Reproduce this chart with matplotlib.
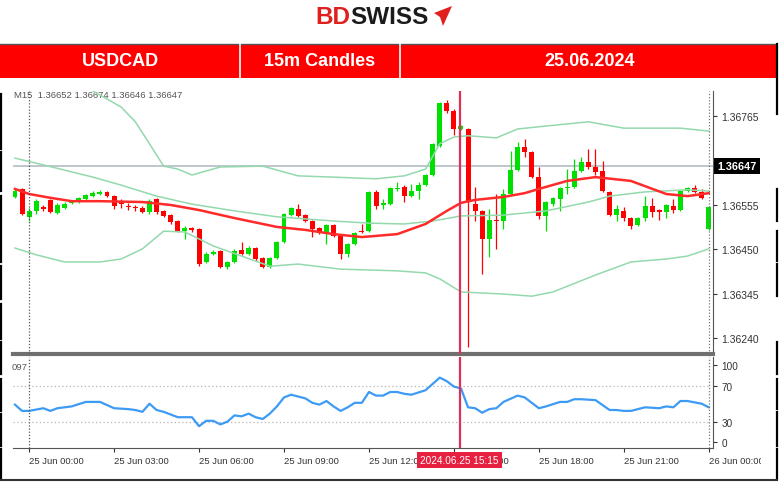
import matplotlib
matplotlib.use('Agg')
import matplotlib.pyplot as plt
import matplotlib.transforms as mtransforms
from matplotlib.patches import Rectangle, Polygon
from matplotlib.lines import Line2D

plt.rcParams['font.family'] = ['Liberation Sans', 'DejaVu Sans']

# USDCAD 15m candles, 24 Jun 23:30 -> 26 Jun 00:00 (index 2 = 25 Jun 00:00)
opens = [1.36574, 1.36593, 1.36527, 1.36541, 1.36550, 1.36567, 1.36536, 1.36548, 1.36560, 1.36562,
         1.36569, 1.36576, 1.36581, 1.36586, 1.36576, 1.36562, 1.36553, 1.36550, 1.36548, 1.36538,
         1.36569, 1.36541, 1.36531, 1.36517, 1.36493, 1.36500, 1.36498, 1.36420, 1.36439, 1.36446,
         1.36408, 1.36420, 1.36448, 1.36439, 1.36453, 1.36429, 1.36408, 1.36429, 1.36467, 1.36531,
         1.36546, 1.36531, 1.36517, 1.36500, 1.36486, 1.36508, 1.36482, 1.36439, 1.36463, 1.36493,
         1.36493, 1.36586, 1.36555, 1.36557, 1.36593, 1.36598, 1.36576, 1.36588, 1.36602, 1.36626,
         1.36695, 1.36797, 1.36778, 1.36735, 1.36735, 1.36557, 1.36541, 1.36474, 1.36519, 1.36517,
         1.36581, 1.36638, 1.36692, 1.36681, 1.36621, 1.36529, 1.36557, 1.36569, 1.36595, 1.36598,
         1.36636, 1.36657, 1.36645, 1.36636, 1.36586, 1.36531, 1.36541, 1.36524, 1.36508, 1.36524,
         1.36553, 1.36543, 1.36538, 1.36553, 1.36543, 1.36588, 1.36595, 1.36586, 1.36498]
highs = [1.36593, 1.36595, 1.36548, 1.36569, 1.36555, 1.36569, 1.36560, 1.36562, 1.36567, 1.36574,
         1.36581, 1.36588, 1.36591, 1.36588, 1.36579, 1.36569, 1.36560, 1.36555, 1.36553, 1.36569,
         1.36572, 1.36543, 1.36534, 1.36519, 1.36505, 1.36503, 1.36500, 1.36444, 1.36448, 1.36448,
         1.36422, 1.36451, 1.36467, 1.36458, 1.36455, 1.36432, 1.36432, 1.36470, 1.36536, 1.36550,
         1.36557, 1.36534, 1.36519, 1.36503, 1.36510, 1.36510, 1.36484, 1.36465, 1.36491, 1.36510,
         1.36588, 1.36591, 1.36569, 1.36598, 1.36610, 1.36602, 1.36605, 1.36610, 1.36628, 1.36702,
         1.36799, 1.36804, 1.36783, 1.36745, 1.36737, 1.36598, 1.36543, 1.36546, 1.36581, 1.36593,
         1.36683, 1.36704, 1.36711, 1.36683, 1.36645, 1.36564, 1.36574, 1.36598, 1.36640, 1.36664,
         1.36669, 1.36688, 1.36688, 1.36659, 1.36588, 1.36555, 1.36550, 1.36527, 1.36527, 1.36576,
         1.36572, 1.36546, 1.36557, 1.36569, 1.36591, 1.36598, 1.36602, 1.36593, 1.36553]
lows = [1.36572, 1.36531, 1.36517, 1.36534, 1.36541, 1.36536, 1.36534, 1.36546, 1.36557, 1.36560,
        1.36567, 1.36574, 1.36579, 1.36574, 1.36546, 1.36548, 1.36543, 1.36541, 1.36536, 1.36534,
        1.36534, 1.36527, 1.36510, 1.36491, 1.36474, 1.36491, 1.36410, 1.36418, 1.36437, 1.36406,
        1.36403, 1.36418, 1.36437, 1.36437, 1.36422, 1.36406, 1.36406, 1.36427, 1.36465, 1.36529,
        1.36527, 1.36515, 1.36479, 1.36486, 1.36463, 1.36479, 1.36427, 1.36432, 1.36460, 1.36489,
        1.36491, 1.36546, 1.36546, 1.36555, 1.36588, 1.36562, 1.36574, 1.36569, 1.36600, 1.36624,
        1.36692, 1.36773, 1.36721, 1.36733, 1.36219, 1.36517, 1.36391, 1.36432, 1.36451, 1.36498,
        1.36579, 1.36636, 1.36669, 1.36619, 1.36522, 1.36493, 1.36553, 1.36541, 1.36581, 1.36595,
        1.36633, 1.36640, 1.36626, 1.36586, 1.36529, 1.36517, 1.36517, 1.36498, 1.36505, 1.36517,
        1.36527, 1.36519, 1.36524, 1.36536, 1.36541, 1.36586, 1.36583, 1.36569, 1.36496]
closes = [1.36588, 1.36534, 1.36541, 1.36564, 1.36546, 1.36538, 1.36555, 1.36557, 1.36564, 1.36572,
          1.36579, 1.36583, 1.36586, 1.36576, 1.36553, 1.36557, 1.36550, 1.36548, 1.36538, 1.36564,
          1.36538, 1.36529, 1.36515, 1.36493, 1.36500, 1.36496, 1.36415, 1.36439, 1.36444, 1.36408,
          1.36420, 1.36446, 1.36439, 1.36453, 1.36427, 1.36408, 1.36429, 1.36467, 1.36534, 1.36548,
          1.36529, 1.36517, 1.36498, 1.36489, 1.36508, 1.36482, 1.36439, 1.36463, 1.36489, 1.36491,
          1.36586, 1.36553, 1.36560, 1.36595, 1.36595, 1.36576, 1.36588, 1.36602, 1.36626, 1.36700,
          1.36797, 1.36778, 1.36735, 1.36742, 1.36562, 1.36541, 1.36474, 1.36519, 1.36517, 1.36581,
          1.36638, 1.36692, 1.36681, 1.36621, 1.36529, 1.36562, 1.36572, 1.36595, 1.36598, 1.36636,
          1.36657, 1.36645, 1.36633, 1.36588, 1.36531, 1.36546, 1.36524, 1.36505, 1.36524, 1.36553,
          1.36538, 1.36538, 1.36555, 1.36543, 1.36588, 1.36595, 1.36586, 1.36572, 1.36550]

# moving average (red) and bands (green), read at some candles
ma_idx = [0, 2, 5, 8, 12, 18, 22, 26, 31, 37, 41, 45, 49, 54, 58, 61, 63, 65, 69, 72, 74, 78, 82, 87, 92, 95, 98]
ma_val = [1.36593, 1.36581, 1.36572, 1.36564, 1.36564, 1.36562, 1.36555, 1.36543, 1.36524, 1.36503,
          1.36496, 1.36486, 1.36479, 1.36486, 1.36510, 1.36541, 1.36560, 1.36567, 1.36574, 1.36583,
          1.36593, 1.36612, 1.36621, 1.36612, 1.36581, 1.36576, 1.36583]
up_idx = [9, 11, 15, 17, 19, 21, 23, 25, 29, 35, 40, 45, 51, 55, 58, 60, 62, 64, 68, 71, 75, 81, 86, 94, 98]
up_val = [1.36844, 1.36825, 1.36787, 1.36752, 1.36700, 1.36647, 1.36640, 1.36626, 1.36645, 1.36647,
          1.36624, 1.36621, 1.36617, 1.36624, 1.36640, 1.36700, 1.36716, 1.36719, 1.36714, 1.36735,
          1.36742, 1.36752, 1.36737, 1.36737, 1.36730]
mid_idx = [0, 4, 11, 15, 20, 25, 31, 37, 45, 50, 55, 59, 63, 69, 75, 81, 84, 89, 95, 98]
mid_val = [1.36666, 1.36650, 1.36621, 1.36602, 1.36576, 1.36557, 1.36541, 1.36527, 1.36517, 1.36512,
           1.36510, 1.36517, 1.36529, 1.36531, 1.36541, 1.36562, 1.36576, 1.36586, 1.36591, 1.36588]
low_idx = [0, 3, 7, 12, 15, 18, 21, 24, 28, 32, 36, 40, 46, 54, 58, 60, 63, 69, 73, 76, 82, 87, 92, 95, 98]
low_val = [1.36453, 1.36437, 1.36420, 1.36420, 1.36427, 1.36451, 1.36493, 1.36491, 1.36458, 1.36434,
           1.36410, 1.36415, 1.36403, 1.36399, 1.36394, 1.36380, 1.36349, 1.36344, 1.36339, 1.36349,
           1.36389, 1.36420, 1.36427, 1.36434, 1.36451]

rsi_idx = [0, 1, 2, 4, 5, 6, 7, 8, 10, 12, 14, 16, 17, 18, 19, 20, 21, 23, 25, 26, 27, 28, 29, 30,
           31, 32, 33, 34, 35, 36, 37, 38, 39, 41, 42, 43, 44, 45, 46, 47, 48, 49, 50, 51, 52, 53,
           54, 55, 56, 58, 60, 61, 62, 63, 64, 65, 66, 67, 68, 69, 71, 72, 74, 75, 77, 78, 79, 80,
           82, 84, 85, 86, 87, 89, 91, 92, 93, 94, 95, 97, 98]
rsi_val = [49, 42, 42, 45, 42, 45, 46, 47, 52, 52, 45, 44, 43, 41, 50, 43, 41, 35, 35, 25, 31, 31, 27, 30,
           37, 36, 39, 35, 33, 39, 47, 57, 60, 56, 51, 49, 53, 47, 42, 46, 51, 51, 63, 59, 59, 63,
           63, 61, 60, 65, 79, 75, 69, 67, 46, 45, 40, 44, 45, 52, 59, 57, 45, 47, 52, 52, 55, 55,
           54, 43, 43, 42, 42, 46, 45, 47, 46, 53, 53, 50, 46]

time_idx = [2, 14, 26, 38, 50, 62, 74, 86, 98]
time_labels = ['25 Jun 00:00', '25 Jun 03:00', '25 Jun 06:00', '25 Jun 09:00', '25 Jun 12:00',
               '25 Jun 15:00', '25 Jun 18:00', '25 Jun 21:00', '26 Jun 00:00']
price_ticks = [1.36240, 1.36345, 1.36450, 1.36555, 1.36660, 1.36765]
last_price = 1.36647
cross_idx = 62.8
cross_label = '2024.06.25 15:15'
header = ['USDCAD', '15m Candles', '25.06.2024']

W, H = 780, 485
def fx(px):
    return px / W
def fy(py):
    return 1 - py / H

fig = plt.figure(figsize=(7.8, 4.85), dpi=100)
fig.patch.set_facecolor('white')

# logo
fig.text(fx(350), fy(18), 'BD', color='#e0201f', fontsize=17.5, fontweight='bold', ha='right', va='center')
fig.text(fx(350), fy(18), 'SWISS', color='#1b1b1b', fontsize=17.5, fontweight='bold', ha='left', va='center')
fig.add_artist(Polygon([(fx(434), fy(14)), (fx(452), fy(7)), (fx(443), fy(27)), (fx(440), fy(18))],
                       closed=True, fc='#e0201f', ec='none', transform=fig.transFigure))

# header bar
fig.add_artist(Rectangle((0, fy(79)), fx(776), 34 / H, fc='#ff0000', ec='none', transform=fig.transFigure))
fig.add_artist(Line2D([0, fx(776)], [fy(45), fy(45)], color='#555555', lw=1, transform=fig.transFigure))
for xd in [240, 400]:
    fig.add_artist(Line2D([fx(xd), fx(xd)], [fy(45), fy(79)], color='white', lw=1.2, transform=fig.transFigure))
for txt, xc in zip(header, [120, 320, 590]):
    fig.text(fx(xc), fy(62), txt, color='white', fontsize=13, fontweight='bold', ha='center', va='center')

# page frame bits
for a, b in [(95, 150), (153, 192), (197, 263), (267, 300), (305, 340), (343, 375), (380, 412), (415, 447), (450, 480)]:
    fig.add_artist(Line2D([fx(1), fx(1)], [fy(a), fy(b)], color='black', lw=1.6, transform=fig.transFigure))
for a, b in [(45, 115), (190, 222), (232, 262), (265, 297), (343, 375), (380, 410), (413, 447), (450, 480)]:
    fig.add_artist(Line2D([fx(777), fx(777)], [fy(a), fy(b)], color='black', lw=1.6, transform=fig.transFigure))
fig.add_artist(Line2D([0, fx(777)], [fy(481), fy(481)], color='#333333', lw=1.5, transform=fig.transFigure))

# main price panel
ax = fig.add_axes([fx(13), fy(355), 700 / W, 263 / H])
ax2 = fig.add_axes([fx(13), fy(449), 700 / W, 91 / H])

idx = list(range(len(opens)))
up = [c >= o for o, c in zip(opens, closes)]
cols = ['#00e000' if u else '#ff0000' for u in up]
ax.vlines(idx, lows, highs, colors=cols, lw=0.9, zorder=2)
bottoms = [min(o, c) for o, c in zip(opens, closes)]
heights = [max(abs(c - o), 0.00003) for o, c in zip(opens, closes)]
ax.bar(idx, heights, bottom=bottoms, width=0.7, color=cols, lw=0, zorder=3)

ax.plot(up_idx, up_val, color='#93d9ad', lw=1.1, zorder=4)
ax.plot(mid_idx, mid_val, color='#93d9ad', lw=1.1, zorder=4)
ax.plot(low_idx, low_val, color='#93d9ad', lw=1.1, zorder=4)
ax.plot(ma_idx, ma_val, color='#ff2a2a', lw=1.8, zorder=5)
ax.axhline(last_price, color='#b3bcc6', lw=1.2, zorder=1)

ax.set_xlim(-0.28, 98.6)
ax.set_ylim(1.36202, 1.36825)
ax.set_xticks([])
ax.yaxis.tick_right()
ax.set_yticks(price_ticks)
ax.set_yticklabels(['%.5f' % v for v in price_ticks])
ax.tick_params(axis='y', direction='out', length=3, width=0.8, colors='#333333', labelsize=7.5, pad=3)
for s in ['top', 'left']:
    ax.spines[s].set_visible(False)
ax.spines['right'].set_color('#555555')
ax.spines['bottom'].set_color('#707070')
ax.spines['bottom'].set_linewidth(3)

trans = mtransforms.blended_transform_factory(ax.transAxes, ax.transData)
ax.text(1.006, last_price, '1.36647', transform=trans, ha='left', va='center', fontsize=7.8,
        fontweight='bold', color='white', zorder=10,
        bbox=dict(boxstyle='square,pad=0.3', fc='black', ec='none'))
ax.text(0.002, 0.985, 'M15  1.36652 1.36674 1.36646 1.36647', transform=ax.transAxes,
        ha='left', va='center', fontsize=6.8, color='#555555')

# RSI panel
ax2.plot(rsi_idx, rsi_val, color='#3d9bf5', lw=1.6, zorder=4)
ax2.hlines([70, 30], -0.28, 98, colors='#b5b5b5', linestyles=(0, (1, 2)), lw=0.9)
ax2.set_xlim(-0.28, 98.6)
ax2.set_ylim(0.8, 101.9)
ax2.yaxis.tick_right()
ax2.set_yticks([7.5, 30, 70, 93])
ax2.set_yticklabels(['0', '30', '70', '100'])
ax2.tick_params(axis='y', direction='out', length=3, width=0.8, colors='#333333', labelsize=7.2, pad=3)
ax2.set_xticks(time_idx)
ax2.set_xticklabels(time_labels)
ax2.tick_params(axis='x', direction='out', length=3, width=0.8, colors='#333333', labelsize=6.8, pad=3)
for lab in ax2.get_xticklabels():
    lab.set_ha('left')
ax2.spines['top'].set_visible(False)
ax2.spines['left'].set_visible(False)
ax2.spines['right'].set_color('#555555')
ax2.spines['bottom'].set_color('#555555')
fig.text(fx(12), fy(368), '097', fontsize=6.8, color='#555555', va='center')

# period separators and crosshair
for a in [ax, ax2]:
    a.axvline(2, color='#555555', ls=(0, (1, 1.5)), lw=0.9, zorder=6)
    a.axvline(98, color='#777777', ls=(0, (1, 1.5)), lw=0.9, zorder=6)
    a.axvline(cross_idx, color='#e0305a', lw=1.6, zorder=7)

ttrans = mtransforms.blended_transform_factory(ax2.transData, ax2.transAxes)
ax2.text(cross_idx, -0.135, cross_label, transform=ttrans, ha='center', va='center', fontsize=7.2,
         color='white', zorder=10, bbox=dict(boxstyle='square,pad=0.3', fc='#e8203f', ec='none'))

# right edge cut of the last time label
fig.add_artist(Rectangle((fx(761), fy(472)), 14 / W, 20 / H, fc='white', ec='none', transform=fig.transFigure, zorder=20))

fig.savefig('out.png', dpi=100)
